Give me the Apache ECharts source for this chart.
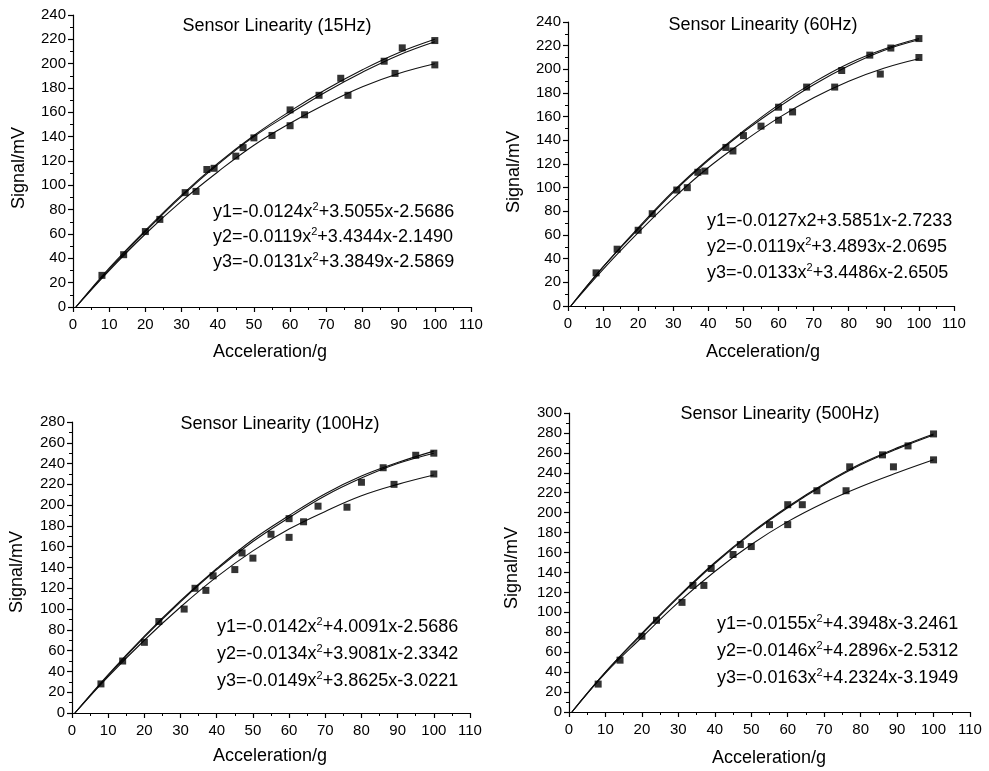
<!DOCTYPE html>
<html>
<head>
<meta charset="utf-8">
<script src="https://cdn.jsdelivr.net/npm/echarts@6/dist/echarts.min.js"></script>
<style>
  html, body { margin: 0; padding: 0; background: #fff; }
  #main { width: 989px; height: 771px; }
</style>
</head>
<body>
<div id="main"></div>
<script>
const FONT = '"Liberation Sans", Arial, sans-serif';

const curveX = [0.8, 10, 20, 30, 40, 50, 60, 70, 80, 90, 100];

// 15Hz
const pts15 = [[8,26],[14,43],[20,62],[24,72],[31,94],[34,95],[37,113],[39,114],[45,124],[47,131],[50,139],
  [55,141],[60,149],[60,162],[64,158],[68,174],[74,188],[76,174],[86,202],[89,192],[91,213],[100,219],[100,199]];
const fit15a = [0, 32, 63, 92, 118, 141, 161, 179, 195, 209, 220];
const fit15b = [0, 31, 62, 91, 117, 140, 159, 177, 193, 207, 218];
const fit15c = [0, 30, 60, 87, 111, 133, 151, 167, 181, 192, 200];
const eq15 = ['y1=-0.0124x^2+3.5055x-2.5686', 'y2=-0.0119x^2+3.4344x-2.1490', 'y3=-0.0131x^2+3.3849x-2.5869'];

// 60Hz
const pts60 = [[8,28],[14,48],[20,64],[24,78],[31,98],[34,100],[37,113],[39,114],[45,134],[47,131],[50,144],
  [55,152],[60,157],[60,168],[64,164],[68,185],[76,185],[78,199],[86,212],[89,196],[92,218],[100,226],[100,210]];
const fit60a = [0, 33, 66, 97, 124, 148, 170, 189, 205, 217, 226];
const fit60b = [0, 33, 65, 96, 123, 147, 168, 187, 203, 216, 225];
const fit60c = [0, 31, 62, 91, 117, 139, 159, 176, 190, 201, 209];
const eq60 = ['y1=-0.0127x2+3.5851x-2.7233', 'y2=-0.0119x^2+3.4893x-2.0695', 'y3=-0.0133x^2+3.4486x-2.6505'];

// 100Hz
const pts100 = [[8,28],[14,50],[20,68],[24,88],[31,100],[34,120],[37,118],[39,132],[45,138],[47,154],[50,149],
  [55,172],[60,169],[60,187],[64,184],[68,199],[76,198],[80,222],[86,236],[89,220],[95,248],[100,250],[100,230]];
const fit100a = [0, 37, 74, 108, 139, 167, 190, 211, 228, 241, 252];
const fit100b = [0, 36, 73, 107, 138, 165, 188, 209, 226, 240, 250];
const fit100c = [0, 35, 70, 102, 131, 156, 177, 194, 209, 220, 229];
const eq100 = ['y1=-0.0142x^2+4.0091x-2.5686', 'y2=-0.0134x^2+3.9081x-2.3342', 'y3=-0.0149x^2+3.8625x-3.0221'];

// 500Hz
const pts500 = [[8,28],[14,52],[20,76],[24,92],[31,110],[34,127],[37,127],[39,144],[45,158],[47,168],[50,166],
  [55,188],[60,188],[60,208],[64,208],[68,222],[76,222],[77,246],[86,258],[89,246],[93,267],[100,279],[100,253]];
const fit500a = [0, 40, 79, 116, 150, 180, 206, 229, 249, 265, 279];
const fit500b = [0, 40, 78, 115, 149, 179, 205, 228, 248, 264, 278];
const fit500c = [0, 39, 75, 110, 141, 168, 191, 210, 226, 240, 253];
const eq500 = ['y1=-0.0155x^2+4.3948x-3.2461', 'y2=-0.0146x^2+4.2896x-2.5312', 'y3=-0.0163x^2+4.2324x-3.1949'];

const titles = ['Sensor Linearity (15Hz)', 'Sensor Linearity (60Hz)', 'Sensor Linearity (100Hz)', 'Sensor Linearity (500Hz)'];
const yMax = [240, 240, 280, 300];

const panels = [
  { pts: pts15, fits: [fit15a, fit15b, fit15c], eq: eq15,
    grid: { left: 73, top: 15, width: 398, height: 292 }, title: [277, 26], eqPos: [213, 212, 25],
    yName: [19, 168], xName: [270, 352] },
  { pts: pts60, fits: [fit60a, fit60b, fit60c], eq: eq60,
    grid: { left: 568, top: 22, width: 386, height: 284 }, title: [763, 25], eqPos: [707, 221, 26],
    yName: [514, 172], xName: [763, 352] },
  { pts: pts100, fits: [fit100a, fit100b, fit100c], eq: eq100,
    grid: { left: 72, top: 422, width: 398, height: 291 }, title: [280, 424], eqPos: [217, 627, 27],
    yName: [17, 572], xName: [270, 756] },
  { pts: pts500, fits: [fit500a, fit500b, fit500c], eq: eq500,
    grid: { left: 569, top: 413, width: 401, height: 299 }, title: [780, 414], eqPos: [717, 624, 27],
    yName: [512, 568], xName: [769, 758] }
];

const axisCommon = {
  axisLine: { show: true, lineStyle: { color: '#000', width: 1.2 } },
  axisTick: { show: true, length: 5, lineStyle: { color: '#000', width: 1.2 } },
  minorTick: { show: true, splitNumber: 2, length: 3, lineStyle: { color: '#000', width: 1 } },
  splitLine: { show: false },
  axisLabel: { color: '#000', fontSize: 15, fontFamily: FONT }
};

const grids = [], xAxes = [], yAxes = [], series = [], graphics = [];

function richEq(s) {
  const parts = s.split('^2');
  return parts.map(p => '{n|' + p + '}').join('{s|2}');
}

panels.forEach((p, i) => {
  grids.push(p.grid);
  xAxes.push(Object.assign({}, axisCommon, {
    gridIndex: i, type: 'value', min: 0, max: 110, interval: 10,
    axisLabel: Object.assign({}, axisCommon.axisLabel, { margin: 10 })
  }));
  yAxes.push(Object.assign({}, axisCommon, {
    gridIndex: i, type: 'value', min: 0, max: yMax[i], interval: 20,
    axisLabel: Object.assign({}, axisCommon.axisLabel, { margin: 7 })
  }));
  p.fits.forEach(f => {
    series.push({
      type: 'line', xAxisIndex: i, yAxisIndex: i, smooth: 0.4, showSymbol: false,
      lineStyle: { color: '#111', width: 1.1 },
      data: curveX.map((x, k) => [x, f[k]]),
      z: 2
    });
  });
  series.push({
    type: 'scatter', xAxisIndex: i, yAxisIndex: i, symbol: 'rect', symbolSize: 7,
    itemStyle: { color: '#000' }, data: p.pts, z: 3
  });

  graphics.push({
    type: 'text', x: p.title[0], y: p.title[1],
    style: { text: titles[i], font: '18px ' + FONT, fill: '#000', align: 'center', verticalAlign: 'middle' }
  });
  graphics.push({
    type: 'text', x: p.xName[0], y: p.xName[1],
    style: { text: 'Acceleration/g', font: '18px ' + FONT, fill: '#000', align: 'center', verticalAlign: 'middle' }
  });
  graphics.push({
    type: 'text', x: p.yName[0], y: p.yName[1], rotation: Math.PI / 2,
    style: { text: 'Signal/mV', font: '18px ' + FONT, fill: '#000', align: 'center', verticalAlign: 'middle' }
  });
  p.eq.forEach((e, k) => {
    graphics.push({
      type: 'text', x: p.eqPos[0], y: p.eqPos[1] + k * p.eqPos[2],
      style: {
        text: richEq(e), align: 'left', verticalAlign: 'middle',
        rich: {
          n: { fontSize: 18, fontFamily: FONT, color: '#000', lineHeight: 22 },
          s: { fontSize: 11, fontFamily: FONT, color: '#000', verticalAlign: 'top', lineHeight: 11 }
        }
      }
    });
  });
});

const chart = echarts.init(document.getElementById('main'));
chart.setOption({
  animation: false,
  backgroundColor: '#fff',
  grid: grids,
  xAxis: xAxes,
  yAxis: yAxes,
  series: series,
  graphic: graphics
});
</script>
</body>
</html>
